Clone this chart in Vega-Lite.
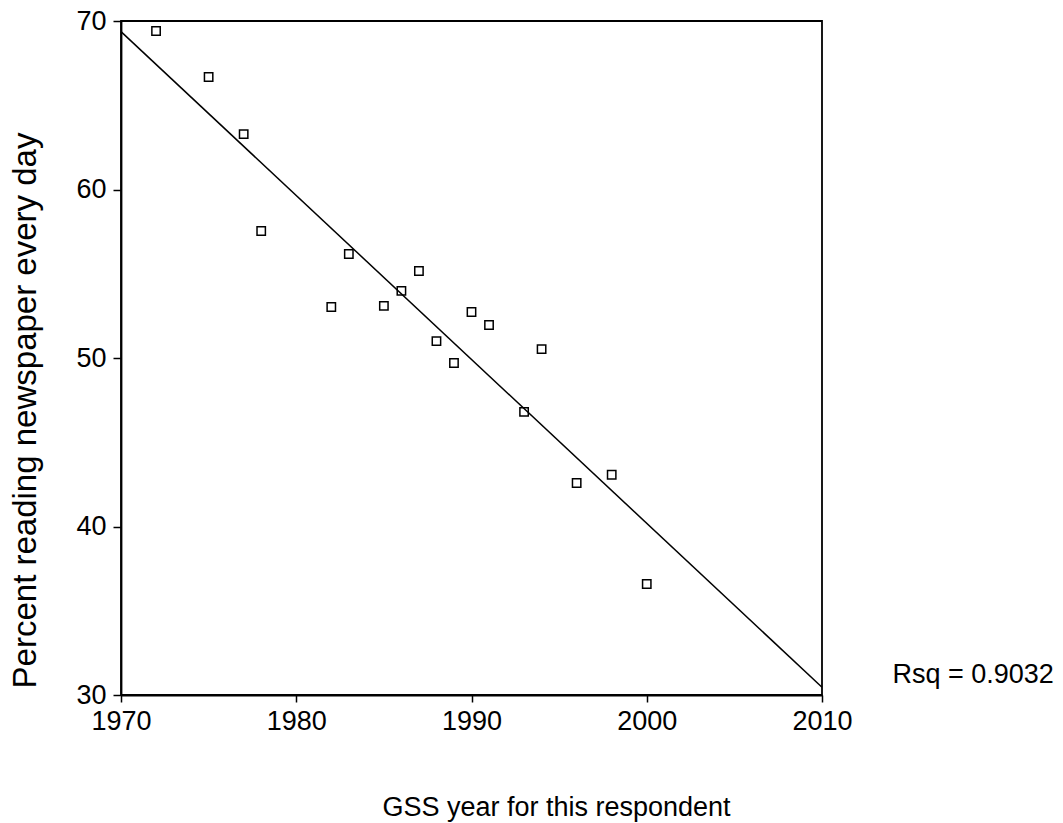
{
  "$schema": "https://vega.github.io/schema/vega-lite/v6.json",
  "autosize": {"type": "none"},
  "width": 701,
  "height": 674,
  "padding": {"left": 121, "top": 21, "right": 241, "bottom": 128},
  "background": "white",
  "config": {
    "view": {"stroke": "black", "strokeWidth": 1.8},
    "font": "Liberation Sans",
    "axis": {
      "labelFont": "Liberation Sans",
      "labelFontSize": 27,
      "labelColor": "black",
      "labelFlush": false,
      "labelOverlap": false,
      "titleFont": "Liberation Sans",
      "titleFontWeight": "normal",
      "titleColor": "black",
      "tickColor": "black",
      "domainColor": "black",
      "domainWidth": 1.8,
      "tickWidth": 1.5,
      "grid": false
    }
  },
  "datasets": {
    "points": [
      {"year": 1972, "pct": 69.41},
      {"year": 1975, "pct": 66.68},
      {"year": 1977, "pct": 63.29},
      {"year": 1978, "pct": 57.54},
      {"year": 1982, "pct": 53.03},
      {"year": 1983, "pct": 56.17},
      {"year": 1985, "pct": 53.09},
      {"year": 1986, "pct": 53.98},
      {"year": 1987, "pct": 55.16},
      {"year": 1988, "pct": 51.0},
      {"year": 1989, "pct": 49.7},
      {"year": 1990, "pct": 52.73},
      {"year": 1991, "pct": 51.96},
      {"year": 1993, "pct": 46.8},
      {"year": 1994, "pct": 50.53},
      {"year": 1996, "pct": 42.58},
      {"year": 1998, "pct": 43.07},
      {"year": 2000, "pct": 36.59}
    ],
    "fit": [
      {"year": 1970, "pct": 69.37},
      {"year": 2010, "pct": 30.46}
    ],
    "note": [
      {"year": 2018.62, "pct": 30.71, "label": "Rsq = 0.9032"}
    ]
  },
  "layer": [
    {
      "data": {"name": "fit"},
      "mark": {"type": "line", "color": "black", "strokeWidth": 1.5},
      "encoding": {
        "x": {
          "field": "year", "type": "quantitative",
          "scale": {"domain": [1970, 2010], "nice": false, "zero": false},
          "axis": {
            "values": [1970, 1980, 1990, 2000, 2010],
            "format": "d",
            "tickSize": 7,
            "labelPadding": 6,
            "title": "GSS year for this respondent",
            "titleFontSize": 27,
            "titleX": 435,
            "titleY": 120,
            "titleAlign": "center",
            "titleBaseline": "alphabetic"
          }
        },
        "y": {
          "field": "pct", "type": "quantitative",
          "scale": {"domain": [30, 70], "nice": false, "zero": false},
          "axis": {
            "values": [30, 40, 50, 60, 70],
            "tickSize": 8,
            "labelPadding": 7,
            "title": "Percent reading newspaper every day",
            "titleFontSize": 33,
            "titleAngle": -90,
            "titleX": -86,
            "titleY": 389,
            "titleAlign": "center",
            "titleBaseline": "alphabetic"
          }
        }
      }
    },
    {
      "data": {"name": "points"},
      "mark": {"type": "point", "shape": "square", "filled": false, "color": "black", "size": 70, "strokeWidth": 1.5, "opacity": 1},
      "encoding": {
        "x": {"field": "year", "type": "quantitative"},
        "y": {"field": "pct", "type": "quantitative"}
      }
    },
    {
      "data": {"name": "note"},
      "mark": {"type": "text", "font": "Liberation Sans", "fontSize": 27, "color": "black", "align": "center", "baseline": "alphabetic"},
      "encoding": {
        "x": {"field": "year", "type": "quantitative"},
        "y": {"field": "pct", "type": "quantitative"},
        "text": {"field": "label"}
      }
    }
  ]
}
